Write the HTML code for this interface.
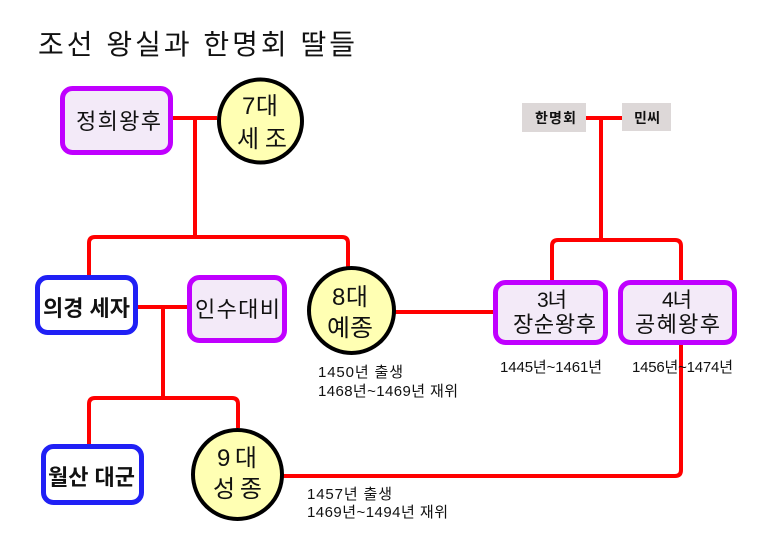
<!DOCTYPE html>
<html lang="ko">
<head>
<meta charset="utf-8">
<style>
  html, body { margin: 0; padding: 0; background: #ffffff; }
  body { width: 773px; height: 554px; overflow: hidden; }
  svg { display: block; }
  text { font-family: "Liberation Sans", "Noto Sans CJK KR", sans-serif; fill: #111; }
  .b { font-weight: bold; }
</style>
</head>
<body>
<svg width="773" height="554" viewBox="0 0 773 554" xmlns="http://www.w3.org/2000/svg">
  <!-- Title -->
  <text x="38" y="54" font-size="28" textLength="317" lengthAdjust="spacing" fill="#1a1a1a">조선 왕실과 한명회 딸들</text>

  <!-- Connectors -->
  <g stroke="#FF0000" stroke-width="4" fill="none" stroke-linejoin="round">
    <path d="M172,118 H217"/>
    <path d="M195,118 V237"/>
    <path d="M89,276 V243 Q89,237 95,237 H342 Q348,237 348,243 V268"/>
    <path d="M138,307 H188"/>
    <path d="M163,307 V398"/>
    <path d="M89,445 V404 Q89,398 95,398 H232 Q238,398 238,404 V428"/>
    <path d="M395,312 H494"/>
    <path d="M586,118 H622"/>
    <path d="M601,118 V240"/>
    <path d="M552,281 V246 Q552,240 558,240 H675 Q681,240 681,246 V281"/>
    <path d="M283,476 H675 Q681,476 681,470 V344"/>
  </g>

  <!-- 정희왕후 -->
  <rect x="62.5" y="88.5" width="108" height="64" rx="10" fill="#F3EAF8" stroke="#C000FF" stroke-width="5"/>
  <text x="76" y="129" font-size="22" textLength="85" lengthAdjust="spacing">정희왕후</text>

  <!-- 7대 세조 -->
  <circle cx="260.5" cy="121" r="41.5" fill="#FFFFB3" stroke="#000" stroke-width="4"/>
  <text x="242" y="114" font-size="24" textLength="36" lengthAdjust="spacing">7대</text>
  <text x="237" y="147" font-size="24" textLength="50" lengthAdjust="spacing">세조</text>

  <!-- 의경 세자 -->
  <rect x="37.5" y="277.5" width="98" height="55" rx="10" fill="#ffffff" stroke="#2020F5" stroke-width="5"/>
  <text class="b" x="43" y="316" font-size="22" textLength="87" lengthAdjust="spacingAndGlyphs">의경 세자</text>

  <!-- 인수대비 -->
  <rect x="189.5" y="277.5" width="95" height="63" rx="10" fill="#F3EAF8" stroke="#C000FF" stroke-width="5"/>
  <text x="195" y="317" font-size="22" textLength="85" lengthAdjust="spacing">인수대비</text>

  <!-- 8대 예종 -->
  <circle cx="351.5" cy="310.5" r="42.5" fill="#FFFFB3" stroke="#000" stroke-width="4"/>
  <text x="332" y="305" font-size="24" textLength="36" lengthAdjust="spacing">8대</text>
  <text x="327" y="336" font-size="24" textLength="46" lengthAdjust="spacingAndGlyphs">예종</text>
  <text x="318" y="377" font-size="15" textLength="85" lengthAdjust="spacing">1450년  출생</text>
  <text x="318" y="396" font-size="15" textLength="140" lengthAdjust="spacing">1468년~1469년  재위</text>

  <!-- 월산 대군 -->
  <rect x="43.5" y="446.5" width="98" height="56" rx="10" fill="#ffffff" stroke="#2020F5" stroke-width="5"/>
  <text class="b" x="48" y="485" font-size="22" textLength="87" lengthAdjust="spacingAndGlyphs">월산 대군</text>

  <!-- 9대 성종 -->
  <circle cx="237.5" cy="474.5" r="44.5" fill="#FFFFB3" stroke="#000" stroke-width="4"/>
  <text x="217" y="466" font-size="24" textLength="40" lengthAdjust="spacing">9대</text>
  <text x="213" y="497" font-size="24" textLength="49" lengthAdjust="spacing">성종</text>
  <text x="307" y="499" font-size="15" textLength="85" lengthAdjust="spacing">1457년  출생</text>
  <text x="307" y="517" font-size="15" textLength="141" lengthAdjust="spacing">1469년~1494년  재위</text>

  <!-- 한명회 / 민씨 -->
  <rect x="522" y="103" width="64" height="29" fill="#DDD8D8"/>
  <text class="b" x="535" y="123" font-size="14" textLength="41" lengthAdjust="spacing">한명회</text>
  <rect x="622" y="103" width="49" height="28" fill="#DDD8D8"/>
  <text class="b" x="634" y="123" font-size="14" textLength="26" lengthAdjust="spacing">민씨</text>

  <!-- 3녀 장순왕후 -->
  <rect x="495.5" y="282.5" width="110" height="60" rx="10" fill="#F3EAF8" stroke="#C000FF" stroke-width="5"/>
  <text x="537" y="307" font-size="21" textLength="30" lengthAdjust="spacing">3녀</text>
  <text x="513" y="332" font-size="22" textLength="83" lengthAdjust="spacing">장순왕후</text>
  <text x="500" y="372" font-size="15" textLength="102" lengthAdjust="spacing">1445년~1461년</text>

  <!-- 4녀 공혜왕후 -->
  <rect x="620.5" y="282.5" width="114" height="60" rx="10" fill="#F3EAF8" stroke="#C000FF" stroke-width="5"/>
  <text x="662" y="307" font-size="21" textLength="30" lengthAdjust="spacing">4녀</text>
  <text x="635" y="332" font-size="22" textLength="85" lengthAdjust="spacing">공혜왕후</text>
  <text x="632" y="372" font-size="15" textLength="101" lengthAdjust="spacing">1456년~1474년</text>
</svg>
</body>
</html>
